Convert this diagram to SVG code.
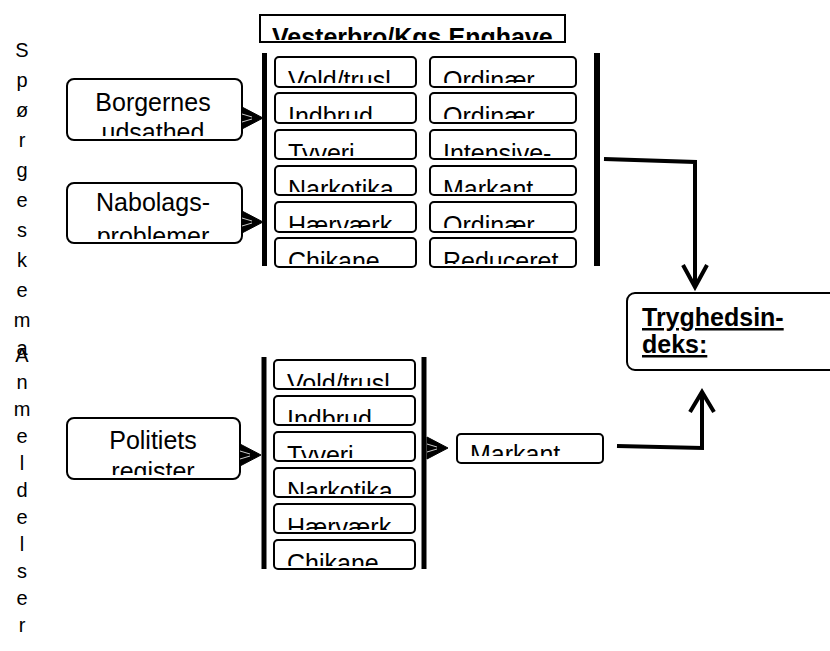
<svg xmlns="http://www.w3.org/2000/svg" xmlns:xlink="http://www.w3.org/1999/xlink" width="830" height="651" viewBox="0 0 830 651">
<style>
text{font-family:"Liberation Sans",Arial,sans-serif;fill:#000}
.t{font-size:25px}
.b{font-size:25px;font-weight:bold}
.u{text-decoration:underline}
.v{font-size:20px;text-anchor:middle}
.box{fill:#fff;stroke:#000;stroke-width:2}
.bar{fill:#000}
.ln{fill:none;stroke:#000;stroke-width:4;stroke-linejoin:miter}
</style>
<defs>
<g id="ah">
<polygon points="0,-11 21,0 0,11" fill="#000" stroke="#000" stroke-width="1" stroke-linejoin="miter"/>
<line x1="0" y1="-4" x2="10" y2="-1" stroke="#fff" stroke-width="0.8"/>
<line x1="0" y1="4" x2="10" y2="1" stroke="#fff" stroke-width="0.8"/>
</g>
<clipPath id="cTitle"><rect x="262" y="17" width="301" height="23"/></clipPath>
<clipPath id="cB"><rect x="68" y="80" width="173" height="56"/></clipPath>
<clipPath id="cN"><rect x="68" y="184" width="173" height="55"/></clipPath>
<clipPath id="cP"><rect x="68" y="419" width="171" height="56"/></clipPath>
<clipPath id="cL1"><rect x="275" y="57" width="141" height="26"/></clipPath>
<clipPath id="cL2"><rect x="275" y="93" width="141" height="26"/></clipPath>
<clipPath id="cL3"><rect x="275" y="130" width="141" height="26"/></clipPath>
<clipPath id="cL4"><rect x="275" y="166" width="141" height="26"/></clipPath>
<clipPath id="cL5"><rect x="275" y="202" width="141" height="26"/></clipPath>
<clipPath id="cL6"><rect x="275" y="238" width="141" height="26"/></clipPath>
<clipPath id="cR1"><rect x="430" y="57" width="146" height="26"/></clipPath>
<clipPath id="cR2"><rect x="430" y="93" width="146" height="26"/></clipPath>
<clipPath id="cR3"><rect x="430" y="130" width="146" height="26"/></clipPath>
<clipPath id="cR4"><rect x="430" y="166" width="146" height="26"/></clipPath>
<clipPath id="cR5"><rect x="430" y="202" width="146" height="26"/></clipPath>
<clipPath id="cR6"><rect x="430" y="238" width="146" height="26"/></clipPath>
<clipPath id="cM1"><rect x="274" y="360" width="141" height="26"/></clipPath>
<clipPath id="cM2"><rect x="274" y="396" width="141" height="26"/></clipPath>
<clipPath id="cM3"><rect x="274" y="432" width="141" height="26"/></clipPath>
<clipPath id="cM4"><rect x="274" y="468" width="141" height="26"/></clipPath>
<clipPath id="cM5"><rect x="274" y="504" width="141" height="26"/></clipPath>
<clipPath id="cM6"><rect x="274" y="540" width="141" height="26"/></clipPath>
<clipPath id="cMk"><rect x="458" y="435" width="144" height="21"/></clipPath>
</defs>

<g id="label-sporgeskema">
<text class="v"><tspan x="22" y="57">S</tspan><tspan x="22" y="87">p</tspan><tspan x="22" y="117">ø</tspan><tspan x="22" y="147">r</tspan><tspan x="22" y="177">g</tspan><tspan x="22" y="207">e</tspan><tspan x="22" y="237">s</tspan><tspan x="22" y="267">k</tspan><tspan x="22" y="297">e</tspan><tspan x="22" y="327">m</tspan><tspan x="22" y="355">a</tspan></text>
</g>
<g id="label-anmeldelser">
<text class="v"><tspan x="22" y="362">A</tspan><tspan x="22" y="389">n</tspan><tspan x="22" y="416">m</tspan><tspan x="22" y="443">e</tspan><tspan x="22" y="470">l</tspan><tspan x="22" y="497">d</tspan><tspan x="22" y="524">e</tspan><tspan x="22" y="551">l</tspan><tspan x="22" y="578">s</tspan><tspan x="22" y="605">e</tspan><tspan x="22" y="632">r</tspan></text>
</g>

<g id="title">
<rect x="260" y="15" width="305" height="27" fill="#fff" stroke="#000" stroke-width="2"/>
<text class="b" x="272" y="46" clip-path="url(#cTitle)">Vesterbro/Kgs Enghave</text>
</g>

<g id="node-borgernes">
<rect class="box" x="67" y="79" width="175" height="61" rx="7"/>
<g clip-path="url(#cB)"><text class="t" text-anchor="middle" x="153" y="111">Borgernes</text><text class="t" text-anchor="middle" x="153" y="141">udsathed</text></g>
</g>
<g id="node-nabolags">
<rect class="box" x="67" y="183" width="175" height="60" rx="7"/>
<g clip-path="url(#cN)"><text class="t" text-anchor="middle" x="153" y="211">Nabolags-</text><text class="t" text-anchor="middle" x="153" y="245">problemer</text></g>
</g>
<g id="node-politiets">
<rect class="box" x="67" y="418" width="173" height="61" rx="7"/>
<g clip-path="url(#cP)"><text class="t" text-anchor="middle" x="153" y="449">Politiets</text><text class="t" text-anchor="middle" x="153" y="480">register</text></g>
</g>

<g id="bars">
<rect class="bar" x="262" y="53" width="5" height="213"/>
<rect class="bar" x="594" y="53" width="6" height="213"/>
<rect class="bar" x="261.5" y="357" width="5" height="212"/>
<rect class="bar" x="421.5" y="357" width="5" height="212"/>
</g>

<g id="group-upper-left">
<rect class="box" x="275" y="57" width="141" height="30" rx="4"/><text class="t" x="288" y="89" clip-path="url(#cL1)">Vold/trusl</text>
<rect class="box" x="275" y="93" width="141" height="30" rx="4"/><text class="t" x="288" y="125" clip-path="url(#cL2)">Indbrud</text>
<rect class="box" x="275" y="130" width="141" height="29" rx="4"/><text class="t" x="288" y="162" clip-path="url(#cL3)">Tyveri</text>
<rect class="box" x="275" y="166" width="141" height="29" rx="4"/><text class="t" x="288" y="198" clip-path="url(#cL4)">Narkotika</text>
<rect class="box" x="275" y="202" width="141" height="30" rx="4"/><text class="t" x="288" y="234" clip-path="url(#cL5)">Hærværk</text>
<rect class="box" x="275" y="238" width="141" height="29" rx="4"/><text class="t" x="288" y="270" clip-path="url(#cL6)">Chikane</text>
</g>
<g id="group-upper-right">
<rect class="box" x="430" y="57" width="146" height="30" rx="4"/><text class="t" x="443" y="89" clip-path="url(#cR1)">Ordinær</text>
<rect class="box" x="430" y="93" width="146" height="30" rx="4"/><text class="t" x="443" y="125" clip-path="url(#cR2)">Ordinær</text>
<rect class="box" x="430" y="130" width="146" height="29" rx="4"/><text class="t" x="443" y="162" clip-path="url(#cR3)">Intensive-</text>
<rect class="box" x="430" y="166" width="146" height="29" rx="4"/><text class="t" x="443" y="198" clip-path="url(#cR4)">Markant</text>
<rect class="box" x="430" y="202" width="146" height="30" rx="4"/><text class="t" x="443" y="234" clip-path="url(#cR5)">Ordinær</text>
<rect class="box" x="430" y="238" width="146" height="29" rx="4"/><text class="t" x="443" y="270" clip-path="url(#cR6)">Reduceret</text>
</g>
<g id="group-lower">
<rect class="box" x="274" y="360" width="141" height="29" rx="4"/><text class="t" x="287" y="392" clip-path="url(#cM1)">Vold/trusl</text>
<rect class="box" x="274" y="396" width="141" height="29" rx="4"/><text class="t" x="287" y="428" clip-path="url(#cM2)">Indbrud</text>
<rect class="box" x="274" y="432" width="141" height="29" rx="4"/><text class="t" x="287" y="464" clip-path="url(#cM3)">Tyveri</text>
<rect class="box" x="274" y="468" width="141" height="29" rx="4"/><text class="t" x="287" y="500" clip-path="url(#cM4)">Narkotika</text>
<rect class="box" x="274" y="504" width="141" height="29" rx="4"/><text class="t" x="287" y="536" clip-path="url(#cM5)">Hærværk</text>
<rect class="box" x="274" y="540" width="141" height="29" rx="4"/><text class="t" x="287" y="572" clip-path="url(#cM6)">Chikane</text>
</g>
<g id="node-markant">
<rect class="box" x="457" y="434" width="146" height="29" rx="4"/>
<text class="t" x="470" y="463" clip-path="url(#cMk)">Markant</text>
</g>
<g id="node-tryghedsindeks">
<rect class="box" x="627" y="293" width="215" height="77" rx="8"/>
<text class="b u" x="642" y="326">Tryghedsin-</text>
<text class="b u" x="642" y="353">deks:</text>
</g>

<g id="connectors">
<use xlink:href="#ah" x="242" y="118"/>
<use xlink:href="#ah" x="242" y="222"/>
<use xlink:href="#ah" x="240" y="455"/>
<use xlink:href="#ah" x="427" y="448"/>
<polyline class="ln" points="604,159 695,162 695,285"/>
<polyline class="ln" points="683,265 695,287 707,265"/>
<polyline class="ln" points="617,446 702,448 702,394"/>
<polyline class="ln" points="690,412 702,392 714,412"/>
</g>
</svg>
